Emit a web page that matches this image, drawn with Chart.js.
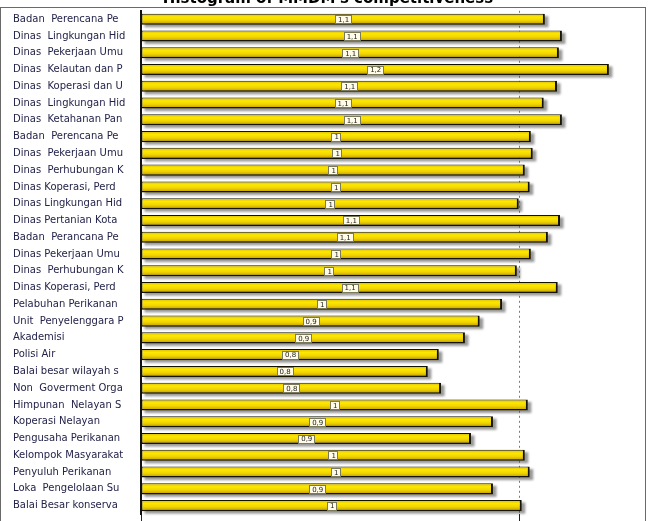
<!DOCTYPE html>
<html>
<head>
<meta charset="utf-8">
<title>Histogram of MMDM's competitiveness</title>
<script src="https://cdn.jsdelivr.net/npm/chart.js@4.4.1/dist/chart.umd.min.js"></script>
<style>
  html, body { margin: 0; padding: 0; background: #fff; overflow: hidden; }
  #wrap { position: absolute; left: 0; top: -10px; width: 649px; height: 532px; }
</style>
</head>
<body>
<div id="wrap"><canvas id="chart"></canvas></div>
<script>
// Stakeholder names as they appear (truncated) on the left axis
const categories = [
  'Badan  Perencana Pe', 'Dinas  Lingkungan Hid', 'Dinas  Pekerjaan Umu', 'Dinas  Kelautan dan P',
  'Dinas  Koperasi dan U', 'Dinas  Lingkungan Hid', 'Dinas  Ketahanan Pan', 'Badan  Perencana Pe',
  'Dinas  Pekerjaan Umu', 'Dinas  Perhubungan K', 'Dinas Koperasi, Perd', 'Dinas Lingkungan Hid',
  'Dinas Pertanian Kota', 'Badan  Perancana Pe', 'Dinas Pekerjaan Umu', 'Dinas  Perhubungan K',
  'Dinas Koperasi, Perd', 'Pelabuhan Perikanan', 'Unit  Penyelenggara P', 'Akademisi',
  'Polisi Air', 'Balai besar wilayah s', 'Non  Goverment Orga', 'Himpunan  Nelayan S',
  'Koperasi Nelayan', 'Pengusaha Perikanan', 'Kelompok Masyarakat', 'Penyuluh Perikanan',
  'Loka  Pengelolaan Su', 'Balai Besar konserva'
];

// Competitiveness score per stakeholder
const scores = [
  1.066, 1.111, 1.103, 1.235, 1.098, 1.063, 1.111, 1.029, 1.034, 1.013,
  1.026, 0.997, 1.106, 1.074, 1.029, 0.992, 1.100, 0.953, 0.894, 0.855,
  0.786, 0.757, 0.792, 1.021, 0.929, 0.871, 1.013, 1.026, 0.929, 1.005
];

// Only the reference line at 1 is marked on the value axis
const axisTicks = [0, 1];
const axisMax = 1.325;

// Value label like "1,1" or "0,9" (comma decimal)
function formatScore(v) {
  const r = Math.round(v * 10) / 10;
  return String(r).replace('.', ',');
}

// Vertical gradient for each bar, built from the category scale
function barFill(c) {
  const chart = c.chart;
  const y = chart.scales && chart.scales.y;
  if (!y || !y.height || c.dataIndex === undefined) return '#f5d800';
  const mid = y.getPixelForValue(c.dataIndex);
  const half = (y.height / categories.length) * 0.66 / 2;
  const g = chart.ctx.createLinearGradient(0, mid - half, 0, mid + half);
  g.addColorStop(0, '#d8b800');
  g.addColorStop(0.3, '#fde800');
  g.addColorStop(0.6, '#f2d500');
  g.addColorStop(1, '#b89400');
  return g;
}

// Outer frame around the plot
const framePlugin = {
  id: 'frame',
  beforeDraw(chart) {
    const ctx = chart.ctx;
    ctx.save();
    ctx.strokeStyle = '#6a6a6a';
    ctx.lineWidth = 1;
    ctx.strokeRect(0.5, 17.5, 645, chart.height);
    ctx.restore();
  }
};

// Grey drop shadow under each bar (drawn from the bar elements)
const shadowPlugin = {
  id: 'barShadow',
  beforeDatasetsDraw(chart) {
    const ctx = chart.ctx;
    const meta = chart.getDatasetMeta(0);
    ctx.save();
    ctx.fillStyle = 'rgba(70, 70, 70, 0.55)';
    ctx.filter = 'blur(1px)';
    meta.data.forEach(bar => {
      const top = bar.y - bar.height / 2;
      ctx.fillRect(bar.base + 3, top + 2.5, bar.x - bar.base + 0.5, bar.height);
    });
    ctx.restore();
  }
};

// Small boxed value label in the middle of every bar
const valueBoxPlugin = {
  id: 'valueBox',
  afterDatasetsDraw(chart) {
    const ctx = chart.ctx;
    const meta = chart.getDatasetMeta(0);
    ctx.save();
    ctx.font = '7px "DejaVu Sans"';
    ctx.textAlign = 'center';
    ctx.textBaseline = 'middle';
    meta.data.forEach((bar, i) => {
      const text = formatScore(scores[i]);
      const cx = (bar.base + bar.x) / 2;
      const cy = bar.y;
      const w = ctx.measureText(text).width + 5;
      const h = 8;
      ctx.fillStyle = '#fffbe6';
      ctx.fillRect(Math.round(cx - w / 2) + 0.5, Math.round(cy - h / 2) + 0.5, Math.round(w), h);
      ctx.strokeStyle = '#7a7a5a';
      ctx.lineWidth = 1;
      ctx.strokeRect(Math.round(cx - w / 2) + 0.5, Math.round(cy - h / 2) + 0.5, Math.round(w), h);
      ctx.fillStyle = '#222';
      ctx.fillText(text, cx + 0.5, cy + 1);
    });
    ctx.restore();
  }
};

const ctx = document.getElementById('chart').getContext('2d');
new Chart(ctx, {
  type: 'bar',
  data: {
    labels: categories,
    datasets: [{
      data: scores,
      backgroundColor: barFill,
      borderColor: '#141200',
      borderWidth: { top: 1, bottom: 1.5, left: 1, right: 2 },
      borderSkipped: false,
      categoryPercentage: 1,
      barPercentage: 0.66
    }]
  },
  options: {
    indexAxis: 'y',
    responsive: true,
    maintainAspectRatio: false,
    animation: false,
    layout: { padding: { left: 13, right: 6, top: 0, bottom: 0 } },
    plugins: {
      legend: { display: false },
      tooltip: { enabled: false },
      title: {
        display: true,
        text: "Histogram of MMDM's competitiveness",
        color: '#000',
        font: { family: 'DejaVu Sans', size: 15, weight: 'bold' },
        padding: { top: 0, bottom: 2.8 }
      }
    },
    scales: {
      x: {
        min: 0,
        max: axisMax,
        afterBuildTicks: scale => { scale.ticks = axisTicks.map(v => ({ value: v })); },
        ticks: { display: false },
        border: { display: false, dash: [2, 3] },
        grid: {
          color: c => (c.tick && c.tick.value === 1 ? '#7a7a7a' : 'rgba(0,0,0,0)'),
          tickColor: '#222',
          tickLength: 8,
          tickBorderDash: []
        }
      },
      y: {
        afterFit: scale => { scale.width = 128; },
        ticks: {
          crossAlign: 'far',
          padding: 0,
          color: '#23234a',
          font: { family: 'DejaVu Sans', size: 10 }
        },
        grid: { display: false },
        border: { display: true, color: '#111', width: 2 }
      }
    }
  },
  plugins: [framePlugin, shadowPlugin, valueBoxPlugin]
});
</script>
</body>
</html>
